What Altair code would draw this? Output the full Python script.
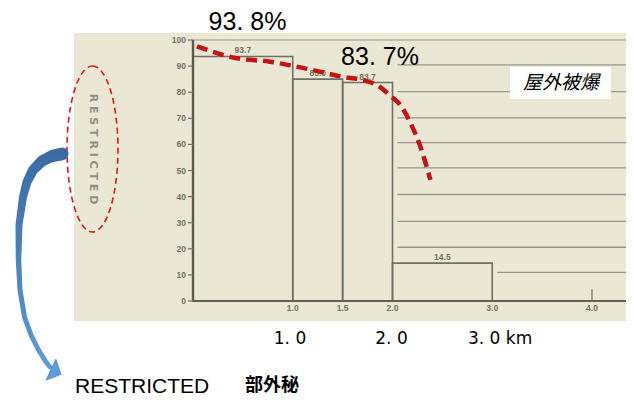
import altair as alt
import pandas as pd

# ---- chart values ----
bar_start = [0.0, 1.0, 1.5, 2.0]
bar_end = [1.0, 1.5, 2.0, 3.0]
bar_value = [93.7, 85.0, 83.7, 14.5]
bar_label = ["93.7", "85.0", "83.7", "14.5"]

curve_km = [0.04, 0.44, 0.77, 1.01, 1.27, 1.50, 1.70, 1.87, 1.97, 2.08, 2.18, 2.28, 2.38]
curve_pct = [97.6, 93.0, 91.7, 90.0, 87.9, 85.9, 84.7, 82.1, 78.9, 75.0, 68.2, 59.1, 46.4]

y_ticks = [0, 10, 20, 30, 40, 50, 60, 70, 80, 90, 100]
x_ticks = [1.0, 1.5, 2.0, 3.0, 4.0]
x_tick_text = ["1.0", "1.5", "2.0", "3.0", "4.0"]

guide_pct = [90.5, 80.2, 70.2, 60.7, 51.0, 40.8, 30.5, 20.6, 11.0]
guide_from = [2.05, 2.05, 2.05, 2.05, 2.05, 2.05, 2.05, 2.05, 3.05]
guide_to = 4.35

# annotation texts
big_text = ["93. 8%", "83. 7%"]
big_x = [239.5, 372]
big_y = [14, 48.5]
km_text = ["1. 0", "2. 0"]
km_x = [282, 383.5]
km_y = [331, 331]
km_last = "3. 0 km"
title_jp = "屋外被爆"
footer_en = "RESTRICTED"
footer_jp = "部外秘"
stamp = "R E S T R I C T E D"

# arrow centre line (pixels) and widths
arrow_x = [54, 44, 34, 25, 19, 15, 11, 10.5, 12, 16.5, 23, 30.5, 38, 42]
arrow_y = [146, 148, 153, 162, 174, 189, 217, 252, 282, 309, 327, 342, 354, 359]
arrow_w = [13, 12, 11, 10, 9, 8, 7, 5.5, 5, 5, 5, 5, 5, 4.5]

XS = alt.Scale(domain=[0, 4], range=[185, 584], nice=False, zero=False)
YS = alt.Scale(domain=[0, 100], range=[293, 32], nice=False, zero=False)


def kx(f):
    return alt.X(f, type="quantitative", scale=XS, axis=None)


def ky(f):
    return alt.Y(f, type="quantitative", scale=YS, axis=None)


def px(f):
    return alt.X(f, type="quantitative", scale=None, axis=None)


def py(f):
    return alt.Y(f, type="quantitative", scale=None, axis=None)


LINE = "#6f6f65"
GUIDE = "#96968c"
LABEL = "#707066"

# beige scan background
bg = alt.Chart(pd.DataFrame({"x": [66], "x2": [618], "y": [25], "y2": [313]})).mark_rect(
    fill="#eae8d4"
).encode(x=px("x"), x2="x2", y=py("y"), y2="y2")

# frame lines
hl = pd.DataFrame({
    "x": [0.0, 0.0] + guide_from,
    "x2": [guide_to, guide_to] + [guide_to] * len(guide_from),
    "y": [100, 0] + guide_pct,
})
hlines_top = alt.Chart(hl.iloc[[0]]).mark_rule(color=GUIDE, strokeWidth=1.2).encode(
    x=kx("x"), x2="x2", y=ky("y"))
hlines_guides = alt.Chart(hl.iloc[2:]).mark_rule(color=GUIDE, strokeWidth=1.3).encode(
    x=kx("x"), x2="x2", y=ky("y"))
xaxis = alt.Chart(hl.iloc[[1]]).mark_rule(color="#5f5f55", strokeWidth=2.2).encode(
    x=kx("x"), x2="x2", y=ky("y"))
yaxis = alt.Chart(pd.DataFrame({"x": [0.0], "y": [0], "y2": [100]})).mark_rule(
    color="#5a5a50", strokeWidth=2.4).encode(x=kx("x"), y=ky("y"), y2="y2")

# bars
bars_df = pd.DataFrame({
    "s": bar_start, "e": bar_end, "v": bar_value, "lab": bar_label,
    "base": [0] * len(bar_value),
})
bars_df["mid"] = (bars_df["s"] + bars_df["e"]) / 2
bars = alt.Chart(bars_df).mark_rect(fillOpacity=0, stroke=LINE, strokeWidth=1.6).encode(
    x=kx("s"), x2="e", y=ky("base"), y2="v")
bar_text = alt.Chart(bars_df).mark_text(
    dy=-6, fontSize=8.5, color=LABEL, font="Liberation Sans", fontWeight="bold"
).encode(x=kx("mid"), y=ky("v"), text="lab:N")

# y ticks & labels
yt = pd.DataFrame({"v": y_ticks, "t": [str(v) for v in y_ticks]})
ytick_marks = alt.Chart(yt).mark_rule(color=LINE, strokeWidth=1.2).encode(
    x=alt.value(180), x2=alt.value(185), y=ky("v"))
ytick_text = alt.Chart(yt).mark_text(
    align="right", baseline="middle", fontSize=8.5, color=LABEL,
    font="Liberation Sans", fontWeight="bold"
).encode(x=alt.value(178), y=ky("v"), text="t:N")

# x tick labels
xt = pd.DataFrame({"v": x_ticks, "t": x_tick_text})
xtick_text = alt.Chart(xt).mark_text(
    baseline="middle", fontSize=8.5, color=LABEL, font="Liberation Sans", fontWeight="bold"
).encode(x=kx("v"), y=alt.value(300), text="t:N")
tick4 = alt.Chart(pd.DataFrame({"x": [4.0], "y": [0], "y2": [4.5]})).mark_rule(
    color=LINE, strokeWidth=1.2).encode(x=kx("x"), y=ky("y"), y2="y2")

# red dashed curve
curve = alt.Chart(pd.DataFrame({"k": curve_km, "p": curve_pct})).mark_line(
    color="#c81212", strokeWidth=4.5, strokeDash=[11, 6], interpolate="monotone"
).encode(x=kx("k"), y=ky("p"))

# annotations
big = alt.Chart(pd.DataFrame({"x": big_x, "y": big_y, "t": big_text})).mark_text(
    fontSize=25, font="Liberation Sans", color="#000000", baseline="middle"
).encode(x=px("x"), y=py("y"), text="t:N")

kmlab = alt.Chart(pd.DataFrame({"x": km_x, "y": km_y, "t": km_text})).mark_text(
    fontSize=17, font="DejaVu Sans", color="#000000", baseline="middle"
).encode(x=px("x"), y=py("y"), text="t:N")
kmlast = alt.Chart(pd.DataFrame({"x": [460], "y": [331], "t": [km_last]})).mark_text(
    fontSize=17, font="DejaVu Sans", color="#000000", baseline="middle", align="left"
).encode(x=px("x"), y=py("y"), text="t:N")

box = alt.Chart(pd.DataFrame({"x": [502], "x2": [603], "y": [59], "y2": [91]})).mark_rect(
    fill="#ffffff").encode(x=px("x"), x2="x2", y=py("y"), y2="y2")
jp = alt.Chart(pd.DataFrame({"x": [553], "y": [75], "t": [title_jp]})).mark_text(
    fontSize=19, font="Noto Sans CJK JP", fontStyle="italic", color="#000000",
    baseline="middle"
).encode(x=px("x"), y=py("y"), text="t:N")

foot1 = alt.Chart(pd.DataFrame({"x": [67], "y": [379], "t": [footer_en]})).mark_text(
    fontSize=21, font="Liberation Sans", color="#000000", baseline="middle", align="left"
).encode(x=px("x"), y=py("y"), text="t:N")
foot2 = alt.Chart(pd.DataFrame({"x": [237], "y": [378], "t": [footer_jp]})).mark_text(
    fontSize=18, font="Noto Sans CJK JP", fontWeight="bold", color="#000000",
    baseline="middle", align="left"
).encode(x=px("x"), y=py("y"), text="t:N")

# dashed ellipse around vertical stamp
k = 0.5523
a = 0.307
ell_path = (
    f"M0,-1 C{a*k:.4f},-1 {a},-{k} {a},0 C{a},{k} {a*k:.4f},1 0,1 "
    f"C-{a*k:.4f},1 -{a},{k} -{a},0 C-{a},-{k} -{a*k:.4f},-1 0,-1 Z"
)
ellipse = alt.Chart(pd.DataFrame({"x": [84.5], "y": [141]})).mark_point(
    shape=ell_path, size=166 * 166, filled=False, stroke="#e01818", strokeWidth=1.6,
    strokeDash=[6, 4], opacity=1
).encode(x=px("x"), y=py("y"))
stamp_t = alt.Chart(pd.DataFrame({"x": [85], "y": [141], "t": [stamp]})).mark_text(
    fontSize=11, font="DejaVu Sans", fontWeight="bold", color="#8e8e86",
    angle=90, baseline="middle"
).encode(x=px("x"), y=py("y"), text="t:N")

# blue curved arrow
arrow = alt.Chart(pd.DataFrame({
    "x": arrow_x, "y": arrow_y, "w": arrow_w, "i": list(range(len(arrow_x)))
})).mark_trail(
    color=alt.Gradient(
        gradient="linear",
        stops=[alt.GradientStop(color="#3a6aa2", offset=0),
               alt.GradientStop(color="#5d9cd8", offset=1)],
        x1=0, x2=0, y1=0, y2=1,
    )
).encode(x=px("x"), y=py("y"), size=alt.Size("w:Q", scale=None, legend=None),
         order="i:Q")
head = alt.Chart(pd.DataFrame({"x": [48], "y": [364]})).mark_point(
    shape="M-0.48,-1 L0.48,0 L-0.48,1 Z", size=529, filled=True, fill="#5d9cd8",
    stroke="#4f8ccb", strokeWidth=0.8, opacity=1, angle=25
).encode(x=px("x"), y=py("y"))

chart = alt.layer(
    bg, hlines_top, hlines_guides, bars, yaxis, xaxis, ytick_marks, ytick_text,
    xtick_text, tick4, bar_text, curve, big, kmlab, kmlast, box, jp,
    foot1, foot2, ellipse, stamp_t, arrow, head
).resolve_scale(x="independent", y="independent").properties(
    width=618, height=389, autosize=alt.AutoSizeParams(type="none"), padding=0,
    background="#ffffff"
).configure_view(stroke=None)

chart.save("out.html", embed_options={"renderer": "svg", "actions": False})
